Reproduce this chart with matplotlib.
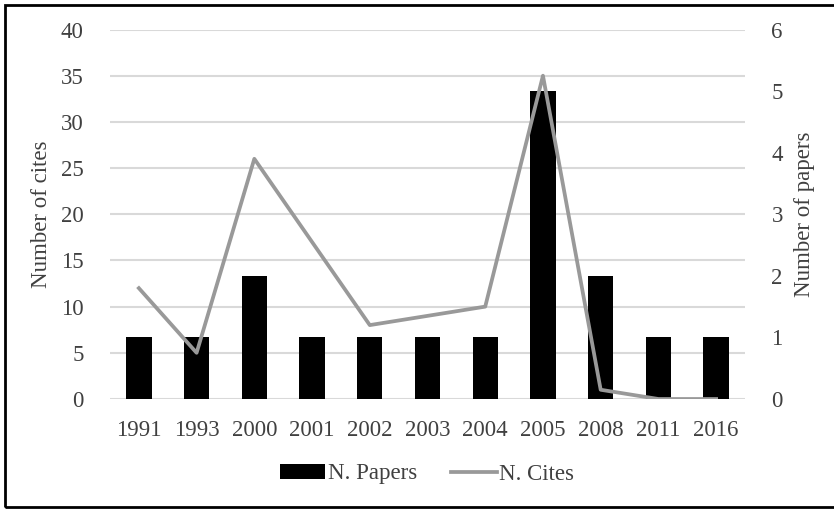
import matplotlib.pyplot as plt
from matplotlib.patches import Rectangle
import numpy as np

plt.rcParams["font.family"] = ["Liberation Serif", "DejaVu Serif"]

years = ["1991", "1993", "2000", "2001", "2002", "2003", "2004", "2005", "2008", "2011", "2016"]
papers = [1, 1, 2, 1, 1, 1, 1, 5, 2, 1, 1]
cites = [12, 5, 26, 17, 8, 9, 10, 35, 1, 0, 0]

TXT = "#404040"
GRID = "#d9d9d9"
LINE = "#999999"
FS = 16.5

W, H = 834, 509
fig = plt.figure(figsize=(W / 100, H / 100), dpi=100)
# plot area in pixels: x 110..745, y 29.5..399
ax = fig.add_axes([110 / W, 1 - 399 / H, (745 - 110) / W, (399 - 29.5) / H])
x = np.arange(len(years))

ax.set_xlim(-0.5, len(years) - 0.5)
ax.set_ylim(0, 40)
ax.set_yticks(range(0, 41, 5))
ax.grid(axis="y", color=GRID, linewidth=1.5)
ax.set_xticks(x)
ax.set_xticklabels(years)
ax.tick_params(length=0, labelsize=FS, labelcolor=TXT)
ax.tick_params(axis="y", pad=19)
ax.tick_params(axis="x", pad=15)
ax.set_ylabel("Number of cites", fontsize=FS, color=TXT, labelpad=6)
for s in ax.spines.values():
    s.set_visible(False)

ax2 = ax.twinx()
bars = ax2.bar(x, papers, width=0.44, color="black", label="N. Papers")
ax2.set_ylim(0, 6)
ax2.set_yticks(range(0, 7))
ax2.tick_params(length=0, labelsize=FS, labelcolor=TXT, pad=19)
ax2.set_ylabel("Number of papers", fontsize=FS, color=TXT, labelpad=8)
for s in ax2.spines.values():
    s.set_visible(False)

ax3 = ax.twinx()
ax3.set_ylim(0, 40)
ln, = ax3.plot(x, cites, color=LINE, linewidth=2.7, label="N. Cites")
ax3.set_yticks([])
for s in ax3.spines.values():
    s.set_visible(False)

fig.legend([bars, ln], ["N. Papers", "N. Cites"], loc="center", ncol=2,
           bbox_to_anchor=(427 / W, 1 - 474 / H), frameon=False, fontsize=FS,
           labelcolor=TXT, handlelength=2.0, handleheight=0.6,
           handletextpad=0.1, columnspacing=1.5)

fig.patches.append(Rectangle((5 / W, 2 / H), 1.2, 1 - 7 / H, transform=fig.transFigure,
                             fill=False, edgecolor="black", linewidth=2))

fig.savefig("out.png", dpi=100)
